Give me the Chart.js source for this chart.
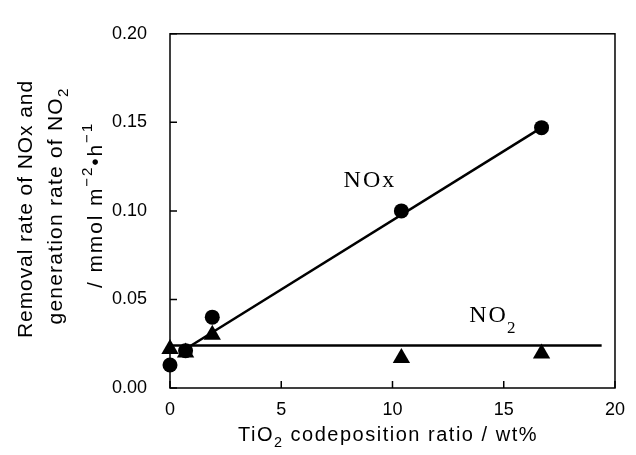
<!DOCTYPE html>
<html><head><meta charset="utf-8">
<script src="https://cdn.jsdelivr.net/npm/chart.js@4"></script>
<style>html,body{margin:0;padding:0;background:#fff;} #wrap{width:636px;height:455px;position:relative;}</style>
</head><body><div id="wrap"><canvas id="c" width="636" height="455"></canvas></div>
<script>
// ---- data ----
const ratio   = [0, 0.7, 1.9, 10.4, 16.7];          // TiO2 codeposition ratio / wt%
const noxRate = [0.013, 0.021, 0.040, 0.100, 0.147]; // NOx removal rate
const no2Rate = [0.022, 0.020, 0.030, 0.017, 0.0195];// NO2 generation rate
const noxFitX = [0.7, 16.7];
const noxFitY = [0.022, 0.147];
const no2FitX = [0, 19.4];
const no2FitY = [0.024, 0.024];
const xTicks = [0, 5, 10, 15, 20];
const yTicks = [0, 0.05, 0.10, 0.15, 0.20];
const seriesLabels = ['NOx', 'NO2'];
const labelX = [7.8, 13.45];
const labelY = [0.1133, 0.037];

const SANS = '"Liberation Sans", Arial, sans-serif';
const SERIF = '"Liberation Serif", "Times New Roman", serif';

function pts(xs, ys){ return xs.map((x,i)=>({x, y: ys[i]})); }

function drawRich(ctx, segs, cx, cy, rot, target, size, family){
  ctx.save();
  ctx.translate(cx, cy); ctx.rotate(rot);
  ctx.fillStyle = '#000'; ctx.textAlign = 'left'; ctx.textBaseline = 'alphabetic';
  let n = 0, w0 = 0;
  ctx.letterSpacing = '0px';
  for (const s of segs){
    const sz = s.k ? size*0.72 : size;
    ctx.font = sz + 'px ' + family;
    w0 += ctx.measureText(s.t).width; n += [...s.t].length;
  }
  const ls = Math.max(0, (target - w0) / n);
  ctx.letterSpacing = ls + 'px';
  let total = 0;
  for (const s of segs){
    const sz = s.k ? size*0.72 : size;
    ctx.font = sz + 'px ' + family;
    total += ctx.measureText(s.t).width;
  }
  let x = -total/2;
  for (const s of segs){
    const sz = s.k ? size*0.72 : size;
    ctx.font = sz + 'px ' + family;
    const dy = s.k === 'sub' ? size*0.3 : (s.k === 'sup' ? -size*0.5 : 0);
    ctx.fillText(s.t, x, dy);
    x += ctx.measureText(s.t).width;
  }
  ctx.restore();
}

const framePlugin = {
  id: 'frame',
  beforeDatasetsDraw(chart){
    const {ctx, chartArea: a, scales} = chart;
    ctx.save();
    ctx.strokeStyle = '#000'; ctx.lineWidth = 1.5;
    ctx.strokeRect(a.left, a.top, a.right - a.left, a.bottom - a.top);
    ctx.beginPath();
    for (const v of yTicks){
      const y = scales.y.getPixelForValue(v);
      ctx.moveTo(a.left, y); ctx.lineTo(a.left + 7, y);
    }
    for (const v of xTicks){
      const x = scales.x.getPixelForValue(v);
      ctx.moveTo(x, a.bottom); ctx.lineTo(x, a.bottom - 7);
    }
    ctx.stroke();
    ctx.restore();
  },
  afterDraw(chart){
    const {ctx, scales} = chart;
    // axis titles
    drawRich(ctx, [{t:'Removal rate of NOx and'}], 32, 209, -Math.PI/2, 258, 21, SANS);
    drawRich(ctx, [{t:'generation rate of NO'},{t:'2',k:'sub'}], 62, 206, -Math.PI/2, 237, 21, SANS);
    drawRich(ctx, [{t:'/ mmol m'},{t:'\u22122',k:'sup'},{t:'\u2022'},{t:'h'},{t:'\u22121',k:'sup'}], 102, 205, -Math.PI/2, 166, 21, SANS);
    drawRich(ctx, [{t:'TiO'},{t:'2',k:'sub'},{t:' codeposition ratio / wt%'}], 388, 441, 0, 300, 20, SANS);
    // series labels
    ctx.save();
    ctx.fillStyle = '#000'; ctx.textBaseline = 'alphabetic'; ctx.textAlign = 'left';
    ctx.letterSpacing = '2px';
    for (let i = 0; i < seriesLabels.length; i++){
      const x = scales.x.getPixelForValue(labelX[i]);
      const y = scales.y.getPixelForValue(labelY[i]);
      const t = seriesLabels[i];
      ctx.font = '24px ' + SERIF;
      if (t === 'NO2'){
        ctx.fillText('NO', x, y);
        const w = ctx.measureText('NO').width;
        ctx.font = '17px ' + SERIF;
        ctx.fillText('2', x + w - 1, y + 11);
      } else {
        ctx.fillText(t, x, y);
      }
    }
    ctx.restore();
  }
};

new Chart(document.getElementById('c'), {
  type: 'scatter',
  data: {
    datasets: [
      { label: 'NO2', data: pts(ratio, no2Rate), pointStyle: 'triangle', pointRadius: 10, pointHoverRadius: 10,
        backgroundColor: '#000', borderColor: '#000', borderWidth: 0, order: 0, clip: false },
      { label: 'NOx', data: pts(ratio, noxRate), pointStyle: 'circle', pointRadius: 7.5, pointHoverRadius: 7.5,
        backgroundColor: '#000', borderColor: '#000', borderWidth: 0, order: 1, clip: false },
      { label: 'NOx fit', data: pts(noxFitX, noxFitY), showLine: true, pointRadius: 0, borderColor: '#000',
        borderWidth: 2.5, order: 2, clip: false },
      { label: 'NO2 fit', data: pts(no2FitX, no2FitY), showLine: true, pointRadius: 0, borderColor: '#000',
        borderWidth: 2.5, order: 3, clip: false }
    ]
  },
  options: {
    responsive: false,
    animation: false,
    events: [],
    layout: { padding: { left: 0, right: 10, top: 21, bottom: 0 } },
    plugins: { legend: { display: false }, tooltip: { enabled: false } },
    scales: {
      x: {
        type: 'linear', min: 0, max: 20,
        afterBuildTicks: s => { s.ticks = xTicks.map(v => ({value: v})); },
        afterFit: s => { s.height = 67; },
        grid: { display: false, drawTicks: false },
        border: { display: false },
        ticks: { padding: 11, color: '#000', font: { family: SANS, size: 18 }, callback: v => String(v) }
      },
      y: {
        type: 'linear', min: 0, max: 0.2,
        afterBuildTicks: s => { s.ticks = yTicks.map(v => ({value: v})); },
        afterFit: s => { s.width = 170; },
        grid: { display: false, drawTicks: false },
        border: { display: false },
        ticks: { padding: 23, color: '#000', font: { family: SANS, size: 18 }, callback: v => Number(v).toFixed(2) }
      }
    }
  },
  plugins: [framePlugin]
});
</script>
</body></html>
